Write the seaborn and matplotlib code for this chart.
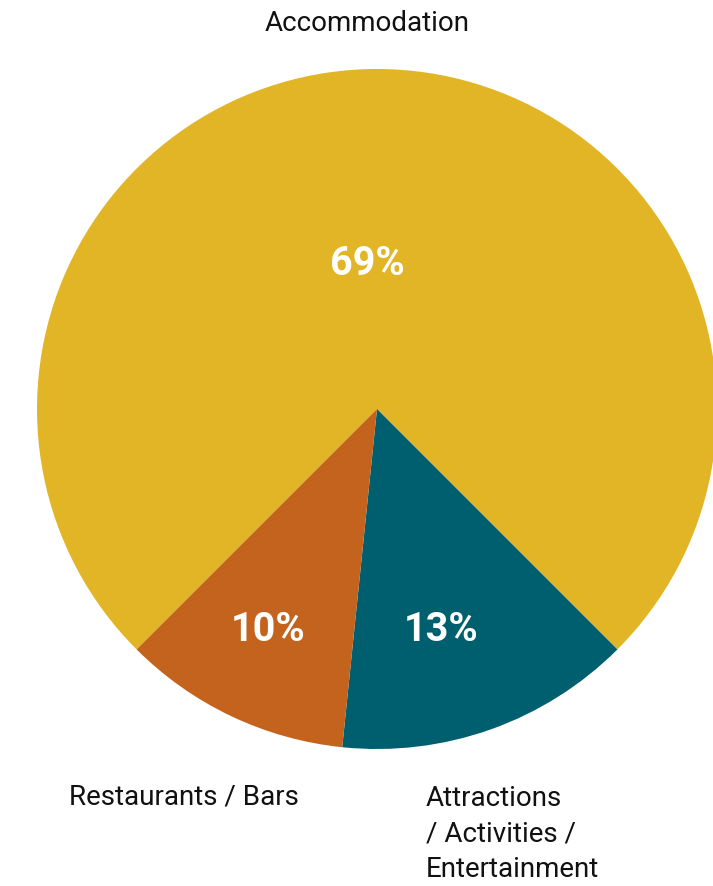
import matplotlib
matplotlib.use("Agg")
import matplotlib.pyplot as plt
import seaborn as sns

# spending share by category
categories = ["Accommodation", "Attractions\n/ Activities /\nEntertainment", "Restaurants / Bars"]
values = [69, 13, 10]
pct_labels = ["69%", "13%", "10%"]
colors = ["#E1B526", "#005F6E", "#C4631E"]

sns.set_theme(style="white")
plt.rcParams['font.family'] = ['Roboto', 'DejaVu Sans']

fig = plt.figure(figsize=(7.13, 8.87), dpi=100)
ax = fig.add_axes([0, 0, 1, 1])

# pixel-like data space: x 0..713, y 0..887 (y up)
cx, cy, r = 377, 887 - 410, 340
ax.pie(values, colors=sns.color_palette(colors), startangle=225, counterclock=False,
       center=(cx, cy), radius=r, wedgeprops={'linewidth': 0})
ax.set_xlim(0, 713)
ax.set_ylim(0, 887)
ax.set_aspect('auto')
ax.axis('off')

# percentage labels
pct_pos = [(367, 887 - 264), (441, 887 - 630), (268, 887 - 630)]
for (x, y), t in zip(pct_pos, pct_labels):
    ax.text(x, y, t, color='white', fontsize=28.5, fontweight='bold', ha='center', va='center')

# category labels
ax.text(367, 887 - 23, categories[0], fontsize=20, color='#111111', ha='center', va='center')
ax.text(69, 887 - 797, categories[2], fontsize=20, color='#111111', ha='left', va='center')
ax.text(426, 887 - 785, categories[1], fontsize=20, color='#111111', ha='left', va='top',
        linespacing=1.41)

fig.savefig('out.png', dpi=100)
plt.close(fig)
